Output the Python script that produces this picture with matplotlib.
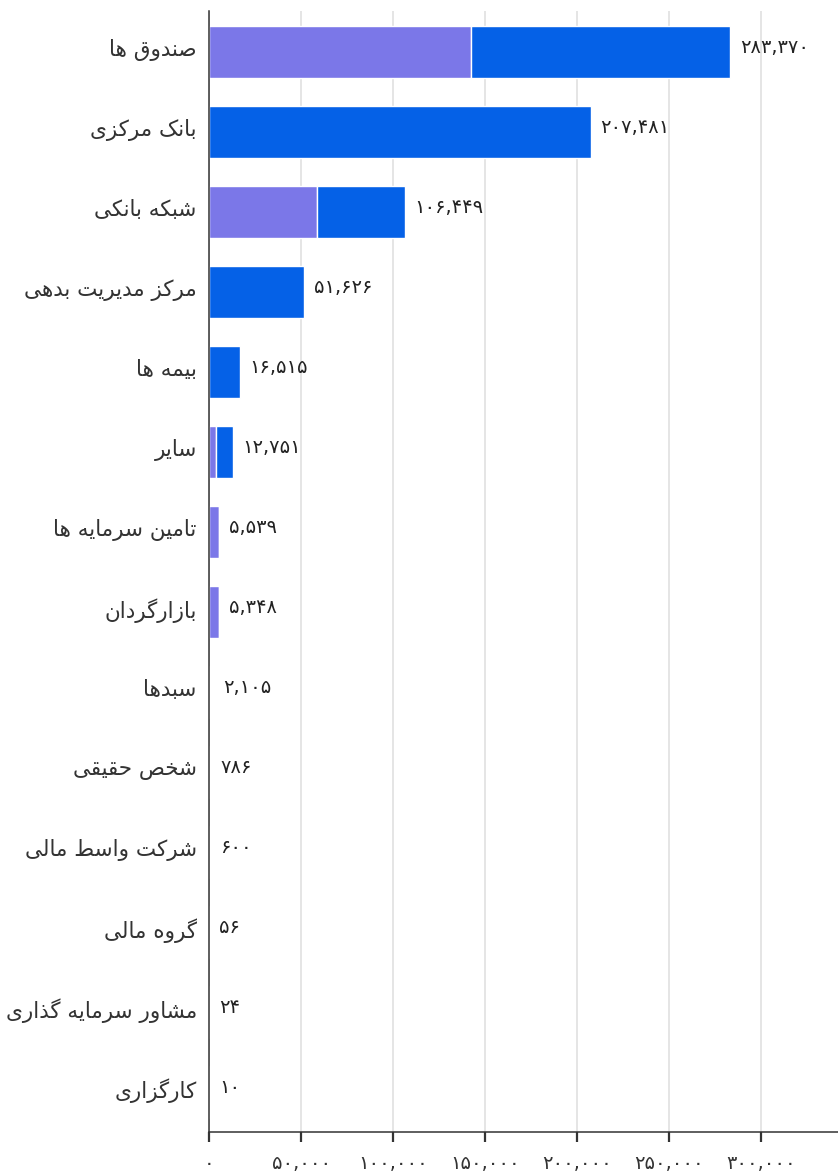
import matplotlib
matplotlib.use('Agg')
import matplotlib.pyplot as plt
from matplotlib.transforms import ScaledTranslation

categories = ['صندوق ها', 'بانک مرکزی', 'شبکه بانکی', 'مرکز مدیریت بدهی', 'بیمه ها',
              'سایر', 'تامین سرمایه ها', 'بازارگردان', 'سبدها', 'شخص حقیقی',
              'شرکت واسط مالی', 'گروه مالی', 'مشاور سرمایه گذاری', 'کارگزاری']
purple_part = [142400, 0, 58400, 0, 0, 3800, 5539, 5348, 0, 0, 0, 0, 0, 0]
blue_part = [140970, 207481, 48049, 51626, 16515, 8951, 0, 0, 0, 0, 0, 0, 0, 0]
totals = [283370, 207481, 106449, 51626, 16515, 12751, 5539, 5348, 2105, 786, 600, 56, 24, 10]
ticks = [0, 50000, 100000, 150000, 200000, 250000, 300000]

PURPLE = '#7b77e8'
BLUE = '#0561e7'
TEXT = '#222222'

# forms: isolated, final, initial, medial (None -> joins only to the right)
FORMS = {
    'ا': ('\ufe8d', '\ufe8e', None, None),
    'ب': ('\ufe8f', '\ufe90', '\ufe91', '\ufe92'),
    'ت': ('\ufe95', '\ufe96', '\ufe97', '\ufe98'),
    'ح': ('\ufea1', '\ufea2', '\ufea3', '\ufea4'),
    'خ': ('\ufea5', '\ufea6', '\ufea7', '\ufea8'),
    'د': ('\ufea9', '\ufeaa', None, None),
    'ذ': ('\ufeab', '\ufeac', None, None),
    'ر': ('\ufead', '\ufeae', None, None),
    'ز': ('\ufeaf', '\ufeb0', None, None),
    'س': ('\ufeb1', '\ufeb2', '\ufeb3', '\ufeb4'),
    'ش': ('\ufeb5', '\ufeb6', '\ufeb7', '\ufeb8'),
    'ص': ('\ufeb9', '\ufeba', '\ufebb', '\ufebc'),
    'ط': ('\ufec1', '\ufec2', '\ufec3', '\ufec4'),
    'ق': ('\ufed5', '\ufed6', '\ufed7', '\ufed8'),
    'ل': ('\ufedd', '\ufede', '\ufedf', '\ufee0'),
    'م': ('\ufee1', '\ufee2', '\ufee3', '\ufee4'),
    'ن': ('\ufee5', '\ufee6', '\ufee7', '\ufee8'),
    'ه': ('\ufee9', '\ufeea', '\ufeeb', '\ufeec'),
    'و': ('\ufeed', '\ufeee', None, None),
    'ک': ('\ufb8e', '\ufb8f', '\ufb90', '\ufb91'),
    'گ': ('\ufb92', '\ufb93', '\ufb94', '\ufb95'),
    'ی': ('\ufbfc', '\ufbfd', '\ufbfe', '\ufbff'),
}


def shape(text):
    out = []
    for i, ch in enumerate(text):
        if ch not in FORMS:
            out.append(ch)
            continue
        prev = text[i - 1] if i > 0 else ''
        nxt = text[i + 1] if i + 1 < len(text) else ''
        join_prev = prev in FORMS and FORMS[prev][2] is not None
        join_next = nxt in FORMS and FORMS[ch][2] is not None
        iso, fin, ini, med = FORMS[ch]
        if join_prev and join_next:
            out.append(med)
        elif join_prev:
            out.append(fin)
        elif join_next:
            out.append(ini)
        else:
            out.append(iso)
    return ''.join(reversed(out))


def fa_num(v):
    s = f'{v:,}'
    return s.translate(str.maketrans('0123456789', '۰۱۲۳۴۵۶۷۸۹'))


plt.rcParams['font.family'] = ['DejaVu Sans']

fig = plt.figure(figsize=(8.38, 11.71), dpi=100)
ax = fig.add_axes([209.3 / 838, 1 - 1132 / 1171, 1 - 209.3 / 838, (1132 - 11) / 1171])

y = list(range(len(categories)))
ax.barh(y, purple_part, height=0.65, color=PURPLE, edgecolor='white', linewidth=1.0, zorder=3)
ax.barh(y, blue_part, left=purple_part, height=0.65, color=BLUE, edgecolor='white',
        linewidth=1.0, zorder=3)

for i, t in enumerate(totals):
    ax.annotate(fa_num(t), xy=(t, i), xytext=(7, 3), textcoords='offset points',
                ha='left', va='center', fontsize=14, color=TEXT)

ax.set_xlim(0, 342000)
ax.set_ylim(13.5, -0.51)
ax.set_yticks(y)
ax.set_yticklabels([shape(c) for c in categories], fontsize=15.5, color='#333333')
ax.tick_params(axis='y', length=0, pad=9)
# nudge category labels up a little
shift = ScaledTranslation(0, 3 / 72, fig.dpi_scale_trans)
for lbl in ax.get_yticklabels():
    lbl.set_transform(lbl.get_transform() + shift)
ax.set_xticks(ticks)
ax.set_xticklabels([fa_num(t) for t in ticks], fontsize=14, color='#333333')
ax.tick_params(axis='x', length=7.5, width=1.6, color='#333333', pad=8)

ax.grid(axis='x', color='#e3e3e3', linewidth=1.3, zorder=0)
ax.set_axisbelow(True)
for side in ['top', 'right']:
    ax.spines[side].set_visible(False)
for side in ['left', 'bottom']:
    ax.spines[side].set_color('#333333')
    ax.spines[side].set_linewidth(1.1)
    ax.spines[side].set_zorder(4)

fig.savefig('out.png', dpi=100)
